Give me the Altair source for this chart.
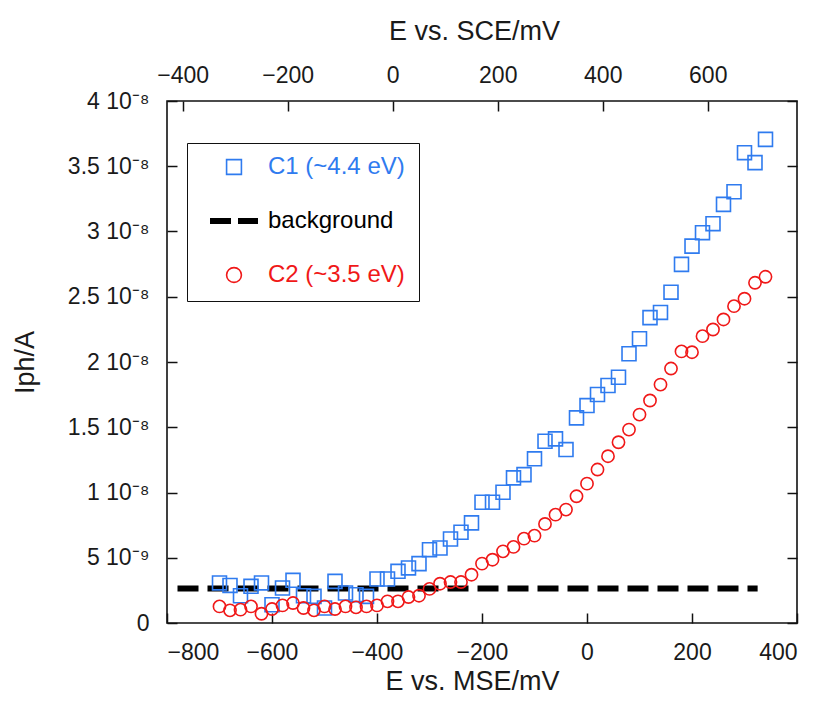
import altair as alt
import pandas as pd

# ---------------- data ----------------
E_MSE = [-700, -680, -660, -640, -620, -600, -580, -560, -540, -520,
         -500, -480, -460, -440, -420, -400, -380, -360, -340, -320,
         -300, -280, -260, -240, -220, -200, -180, -160, -140, -120,
         -100, -80, -60, -40, -20, 0, 20, 40, 60, 80,
         100, 120, 140, 160, 180, 200, 220, 240, 260, 280,
         300, 320, 340]

# photocurrent in units of 1e-8 A
I_C1 = [0.307, 0.288, 0.209, 0.281, 0.307, 0.140, 0.268, 0.327, 0.209, 0.204,
        0.115, 0.319, 0.230, 0.217, 0.204, 0.337, 0.337, 0.396, 0.422, 0.455,
        0.562, 0.575, 0.644, 0.695, 0.767, 0.925, 0.925, 1.002, 1.112, 1.137,
        1.258, 1.393, 1.411, 1.329, 1.572, 1.666, 1.751, 1.820, 1.883, 2.063,
        2.178, 2.340, 2.380, 2.535, 2.748, 2.888, 2.991, 3.060, 3.208, 3.305,
        3.604, 3.528, 3.706]

I_C2 = [0.127, 0.097, 0.102, 0.127, 0.071, 0.107, 0.135, 0.153, 0.115, 0.097,
        0.127, 0.107, 0.127, 0.120, 0.127, 0.135, 0.166, 0.166, 0.199, 0.209,
        0.261, 0.301, 0.314, 0.314, 0.370, 0.455, 0.485, 0.549, 0.583, 0.646,
        0.669, 0.759, 0.830, 0.869, 0.971, 1.068, 1.176, 1.278, 1.385, 1.482,
        1.597, 1.705, 1.827, 1.950, 2.081, 2.075, 2.198, 2.249, 2.326, 2.428,
        2.485, 2.607, 2.653]

BG_E = [-780, 325]
BG_I = [0.265, 0.265]

SERIES = ["C1 (~4.4 eV)", "background", "C2 (~3.5 eV)"]
COLORS = ["#2f7bef", "#000000", "#f01818"]
SHAPES = ["square", "stroke", "circle"]

X_TICKS = [-800, -600, -400, -200, 0, 200, 400]
SCE_TICKS = [-400, -200, 0, 200, 400, 600]
SCE_OFFSET = 370
Y_TICKS = [0, 0.5, 1, 1.5, 2, 2.5, 3, 3.5, 4]  # x 1e-8 A

X_DOMAIN = [-800, 400]
Y_DOMAIN = [0, 4e-8]

FONT = "Liberation Sans"
TXT = "#1a1a1a"

# ---------------- tables ----------------
n = len(E_MSE)
pts_c1 = pd.DataFrame({"E": E_MSE, "I": [v * 1e-8 for v in I_C1], "series": [SERIES[0]] * n})
pts_c2 = pd.DataFrame({"E": E_MSE, "I": [v * 1e-8 for v in I_C2], "series": [SERIES[2]] * n})
bg = pd.DataFrame({"E": BG_E, "I": [v * 1e-8 for v in BG_I], "series": [SERIES[1]] * len(BG_E)})
top_df = pd.DataFrame({"sce": SCE_TICKS})
right_df = pd.DataFrame({"v": [t * 1e-8 for t in Y_TICKS]})

# ---------------- shared pieces ----------------
# axes are pulled 10px inside the frame so that their ticks point inwards
common_axis = dict(domain=False, grid=False, tickColor="#111", tickWidth=1.5, tickSize=10,
                   offset=-10, labelFont=FONT, labelFontSize=23, labelColor=TXT,
                   titleFont=FONT, titleFontWeight="normal", titleColor=TXT)

xscale = alt.Scale(domain=X_DOMAIN, nice=False, zero=False)
yscale = alt.Scale(domain=Y_DOMAIN, nice=False, zero=False)

x_axis = alt.Axis(orient="bottom", values=X_TICKS, title="E vs. MSE/mV", format="d",
                  labelPadding=18, titlePadding=4, titleFontSize=27, titleX=305,
                  **common_axis)

y_label_expr = (
    "datum.value == 0 ? '0' : (datum.value < 9e-9 ? "
    "format(datum.value*1e9, '.2~g') + ' 10\u207b\u2079' : "
    "format(datum.value*1e8, '.2~g') + ' 10\u207b\u2078')"
)
y_axis = alt.Axis(orient="left", values=[t * 1e-8 for t in Y_TICKS], title="Iph/A",
                  labelExpr=y_label_expr, labelPadding=18, titlePadding=28,
                  titleFontSize=27, **common_axis)

legend = alt.Legend(
    title=None, orient="none", legendX=20, legendY=42,
    strokeColor="#111", fillColor="white", padding=14,
    clipHeight=20, rowPadding=30, symbolOffset=21, labelOffset=22,
    labelFont=FONT, labelFontSize=24, labelBaseline="middle",
    labelColor=alt.ExprRef(
        "datum.label == 'background' ? '#000000' : "
        "(datum.label == 'C1 (~4.4 eV)' ? '#2f7bef' : '#f01818')"),
    symbolSize=alt.ExprRef("datum.label == 'background' ? 2304 : 220"),
    symbolStrokeWidth=alt.ExprRef("datum.label == 'background' ? 6 : 1.6"),
    symbolDash=alt.ExprRef("datum.label == 'background' ? [21, 7] : []"),
    symbolFillColor="transparent",
)

color = alt.Color("series:N", scale=alt.Scale(domain=SERIES, range=COLORS), legend=legend)
shape = alt.Shape("series:N", scale=alt.Scale(domain=SERIES, range=SHAPES), legend=legend)

x_enc = alt.X("E:Q", scale=xscale, axis=x_axis)
y_enc = alt.Y("I:Q", scale=yscale, axis=y_axis)

line = alt.Chart(bg).mark_line(strokeDash=[21, 9], strokeWidth=6, strokeCap="butt").encode(
    x=x_enc, y=y_enc, color=color)

sq = alt.Chart(pts_c1).mark_point(filled=False, strokeWidth=1.6, size=195, opacity=1).encode(
    x=x_enc, y=y_enc, color=color, shape=shape)

ci = alt.Chart(pts_c2).mark_point(filled=False, strokeWidth=1.6, size=150, opacity=1).encode(
    x=x_enc, y=y_enc, color=color, shape=shape)

main = alt.layer(line, sq, ci)

top = alt.Chart(top_df).mark_point(opacity=0).encode(
    x=alt.X("sce:Q",
            scale=alt.Scale(domain=[X_DOMAIN[0] + SCE_OFFSET, X_DOMAIN[1] + SCE_OFFSET],
                            nice=False, zero=False),
            axis=alt.Axis(orient="top", values=SCE_TICKS, title="E vs. SCE/mV", format="d",
                          labelPadding=14, titlePadding=19, titleFontSize=27, titleX=307,
                          **common_axis)),
    y=alt.value(0))

right = alt.Chart(right_df).mark_point(opacity=0).encode(
    y=alt.Y("v:Q", scale=yscale,
            axis=alt.Axis(orient="right", values=[t * 1e-8 for t in Y_TICKS], labels=False,
                          title=None, **common_axis)),
    x=alt.value(0))

chart = alt.layer(main, top, right).resolve_scale(
    x="independent", y="independent"
).properties(
    width=630, height=522,
    autosize=alt.AutoSizeParams(type="none"),
    padding={"left": 159, "top": 93, "right": 14, "bottom": 74},
    background="white",
).configure_view(stroke="#111", strokeWidth=1.6)

chart.save("out.html", embed_options={"renderer": "svg", "actions": False})
